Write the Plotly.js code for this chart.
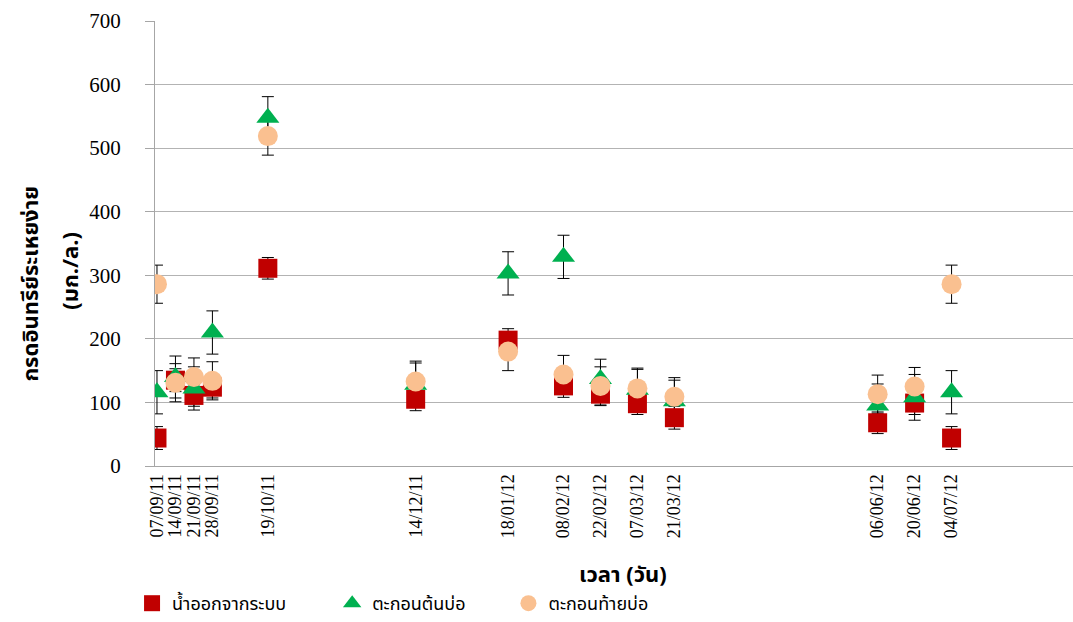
<!DOCTYPE html>
<html>
<head>
<meta charset="utf-8">
<script src="https://cdn.plot.ly/plotly-3.0.1.min.js"></script>
<style>
  html, body { margin: 0; padding: 0; background: #ffffff; }
  #chart { width: 1073px; height: 622px; }
</style>
</head>
<body>
<div id="chart"></div>
<script>
// Sampling dates (dd/mm/yy labels on the axis)
const sampleDates = [
  "2011-09-07", "2011-09-14", "2011-09-21", "2011-09-28", "2011-10-19",
  "2011-12-14", "2012-01-18", "2012-02-08", "2012-02-22", "2012-03-07",
  "2012-03-21", "2012-06-06", "2012-06-20", "2012-07-04"
];
const dateLabels = [
  "07/09/11", "14/09/11", "21/09/11", "28/09/11", "19/10/11",
  "14/12/11", "18/01/12", "08/02/12", "22/02/12", "07/03/12",
  "21/03/12", "06/06/12", "20/06/12", "04/07/12"
];

// Volatile fatty acids (mg/L) – effluent
const effluentVfa = [44, 135, 111, 124, 311, 105, 198, 126, 113, 98, 76, 68, 99, 44];
const effluentErr = [18, 18, 17, 17, 17, 18, 18, 18, 18, 17, 18, 17, 18, 18];

// Volatile fatty acids (mg/L) – sludge at pond inlet
const inletVfa = [116, 140, 122, 210, 548, 128, 303, 329, 137, 120, 102, 95, 108, 116];
const inletErr = [34, 33, 34, 34, 33, 34, 34, 34, 31, 34, 33, 34, 36, 34];

// Volatile fatty acids (mg/L) – sludge at pond outlet
const outletVfa = [286, 131, 140, 134, 519, 133, 180, 144, 126, 122, 109, 113, 125, 286];
const outletErr = [30, 30, 30, 30, 30, 32, 30, 30, 30, 30, 30, 30, 30, 30];

const seriesNames = ["น้ำออกจากระบบ", "ตะกอนต้นบ่อ", "ตะกอนท้ายบ่อ"];

const thaiFont = "Tahoma, 'Noto Sans Thai', 'DejaVu Sans', 'Noto Sans', sans-serif";
const serifFont = "'Liberation Serif', 'Times New Roman', serif";

// Error bars live in their own traces, all drawn before any markers,
// so every marker sits on top of the whiskers.
function whiskers(y, err) {
  return {
    x: sampleDates, y: y, type: "scatter", mode: "markers",
    marker: { size: 1, opacity: 0 }, showlegend: false, hoverinfo: "skip",
    error_y: {
      type: "data", array: err, visible: true,
      color: "#000000", thickness: 1, width: 6
    }
  };
}

function markers(y, name, symbol, size, color, legendId) {
  return {
    x: sampleDates, y: y, name: name, type: "scatter", mode: "markers",
    marker: { symbol: symbol, size: size, color: color },
    legend: legendId
  };
}

const traces = [
  whiskers(effluentVfa, effluentErr),
  whiskers(inletVfa, inletErr),
  whiskers(outletVfa, outletErr),
  markers(effluentVfa, seriesNames[0], "square", 19, "#C00000", "legend"),
  markers(inletVfa, seriesNames[1], "triangle-up", 20, "#00B050", "legend2"),
  markers(outletVfa, seriesNames[2], "circle", 20, "#FAC090", "legend3")
];

function legendAt(x) {
  return {
    orientation: "h", x: x, xanchor: "left", y: -0.31, yanchor: "middle",
    font: { family: thaiFont, size: 18, color: "#000000" },
    itemsizing: "trace", bgcolor: "rgba(0,0,0,0)"
  };
}

const layout = {
  width: 1073, height: 622,
  margin: { l: 155, r: 0, t: 21, b: 154 },
  paper_bgcolor: "#ffffff", plot_bgcolor: "#ffffff",
  showlegend: true,
  legend: legendAt(-0.025),
  legend2: legendAt(0.193),
  legend3: legendAt(0.385),
  xaxis: {
    type: "date",
    range: ["2011-09-06 06:00", "2012-08-19"],
    tickmode: "array", tickvals: sampleDates, ticktext: dateLabels,
    tickangle: -90,
    tickfont: { family: serifFont, size: 18, color: "#000000" },
    showgrid: false, zeroline: false,
    showline: true, linecolor: "#a6a6a6", linewidth: 1,
    ticks: "", fixedrange: true
  },
  yaxis: {
    range: [0, 700], dtick: 100, tick0: 0,
    tickfont: { family: serifFont, size: 21, color: "#000000" },
    showgrid: true, gridcolor: "#b3b3b3", gridwidth: 1,
    zeroline: false,
    showline: true, linecolor: "#a6a6a6", linewidth: 1,
    ticks: "outside", ticklen: 9, tickcolor: "#a6a6a6",
    ticklabelstandoff: 20, fixedrange: true
  },
  annotations: [
    {
      text: "<b>กรดอินทรีย์ระเหยง่าย</b>", xref: "paper", yref: "paper",
      x: -0.135, y: 0.41, xanchor: "center", yanchor: "middle",
      textangle: -90, showarrow: false,
      font: { family: thaiFont, size: 22, color: "#000000" }
    },
    {
      text: "<b>(มก./ล.)</b>", xref: "paper", yref: "paper",
      x: -0.091, y: 0.44, xanchor: "center", yanchor: "middle",
      textangle: -90, showarrow: false,
      font: { family: thaiFont, size: 22, color: "#000000" }
    },
    {
      text: "<b>เวลา (วัน)</b>", xref: "paper", yref: "paper",
      x: 0.51, y: -0.245, xanchor: "center", yanchor: "middle",
      showarrow: false,
      font: { family: thaiFont, size: 22, color: "#000000" }
    }
  ]
};

Plotly.newPlot("chart", traces, layout, { displayModeBar: false, staticPlot: true });
</script>
</body>
</html>
